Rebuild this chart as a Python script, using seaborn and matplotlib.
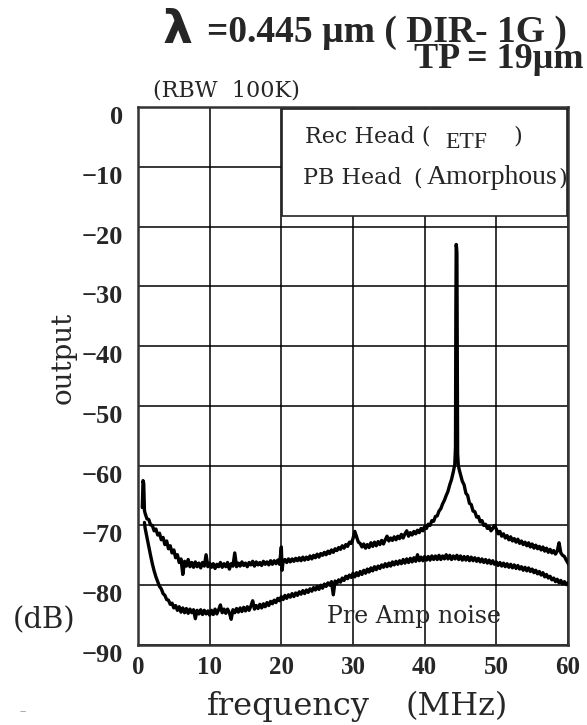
import matplotlib
matplotlib.use("Agg")
import matplotlib.pyplot as plt
from matplotlib.patches import Rectangle
from matplotlib.transforms import ScaledTranslation
import seaborn as sns
import pandas as pd

# ---------------- data ----------------
# upper trace: recorded signal (carrier at 44.5 MHz)
rec_freq = [0.6, 0.7, 0.8, 0.9, 1.0, 1.25, 1.5, 1.75, 2.0, 2.25, 2.5, 2.75, 3.0, 3.25, 3.5, 3.75,
            4.0, 4.25, 4.5, 4.75, 5.0, 5.25, 5.5, 5.75, 6.0, 6.25, 6.5, 6.75, 7.0, 7.25, 7.5,
            7.75, 8.0, 8.25, 8.5, 8.75, 9.0, 9.25, 9.5, 9.75, 10.0, 10.25, 10.5, 10.75, 11.0,
            11.25, 11.5, 11.75, 12.0, 12.25, 12.5, 12.75, 13.0, 13.25, 13.5, 13.75, 14.0, 14.25,
            14.5, 14.75, 15.0, 15.25, 15.5, 15.75, 16.0, 16.25, 16.5, 16.75, 17.0, 17.25, 17.5,
            17.75, 18.0, 18.25, 18.5, 18.75, 19.0, 19.25, 19.5, 19.75, 20.0, 20.1, 20.25, 20.5,
            20.75, 21.0, 21.25, 21.5, 21.75, 22.0, 22.25, 22.5, 22.75, 23.0, 23.25, 23.5, 23.75,
            24.0, 24.25, 24.5, 24.75, 25.0, 25.25, 25.5, 25.75, 26.0, 26.25, 26.5, 26.75, 27.0,
            27.25, 27.5, 27.75, 28.0, 28.25, 28.5, 28.75, 29.0, 29.25, 29.5, 29.75, 30.0, 30.25,
            30.5, 30.75, 31.0, 31.25, 31.5, 31.75, 32.0, 32.25, 32.5, 32.75, 33.0, 33.25, 33.5,
            33.75, 34.0, 34.25, 34.5, 34.75, 35.0, 35.25, 35.5, 35.75, 36.0, 36.25, 36.5, 36.75,
            37.0, 37.25, 37.5, 37.75, 38.0, 38.25, 38.5, 38.75, 39.0, 39.25, 39.5, 39.75, 40.0,
            40.25, 40.5, 40.75, 41.0, 41.25, 41.5, 41.75, 42.0, 42.25, 42.5, 42.75, 43.0, 43.25,
            43.5, 43.75, 44.0, 44.2, 44.3, 44.35, 44.4, 44.45, 44.5, 44.55, 44.6, 44.7, 44.85,
            45.0, 45.25, 45.5, 45.75, 46.0, 46.25, 46.5, 46.75, 47.0, 47.25, 47.5, 47.75, 48.0,
            48.25, 48.5, 48.75, 49.0, 49.25, 49.5, 49.75, 50.0, 50.25, 50.5, 50.75, 51.0, 51.25,
            51.5, 51.75, 52.0, 52.25, 52.5, 52.75, 53.0, 53.25, 53.5, 53.75, 54.0, 54.25, 54.5,
            54.75, 55.0, 55.25, 55.5, 55.75, 56.0, 56.25, 56.5, 56.75, 57.0, 57.25, 57.5, 57.75,
            58.0, 58.25, 58.5, 58.75, 59.0, 59.25, 59.5, 59.75, 60.0, 60.25, 60.5]
rec_level = [-67.0, -62.5, -63.0, -67.5, -68.0, -68.9, -69.0, -69.9, -70.0, -70.9, -70.6, -71.6,
             -71.3, -72.4, -72.0, -73.2, -72.6, -73.9, -73.4, -74.6, -74.1, -75.4, -74.9, -76.2,
             -75.6, -78.2, -76.0, -76.8, -75.7, -76.9, -76.2, -77.0, -76.1, -76.9, -76.3, -77.1,
             -76.2, -76.8, -74.9, -76.9, -76.3, -77.0, -76.4, -77.2, -76.5, -76.9, -76.2, -77.0,
             -76.4, -76.9, -76.2, -77.3, -76.4, -76.8, -74.6, -76.9, -76.3, -76.8, -76.1, -76.7,
             -76.3, -76.9, -76.2, -76.6, -76.0, -76.8, -76.1, -76.6, -76.2, -76.7, -76.0, -76.5,
             -76.1, -76.6, -75.9, -76.5, -75.9, -76.4, -75.8, -76.5, -73.6, -77.5, -76.0, -75.7,
             -76.2, -75.6, -76.1, -75.6, -76.0, -75.5, -75.9, -75.4, -75.9, -75.3, -75.8, -75.3,
             -75.7, -75.1, -75.6, -75.0, -75.4, -74.8, -75.3, -74.7, -75.0, -74.5, -74.9, -74.3,
             -74.7, -74.1, -74.5, -73.9, -74.2, -73.7, -74.0, -73.4, -73.8, -73.2, -73.5, -72.8,
             -73.0, -72.2, -71.0, -71.9, -72.8, -73.0, -73.6, -73.1, -73.8, -73.2, -73.7, -72.9,
             -73.5, -72.8, -73.4, -72.7, -73.2, -72.5, -73.1, -72.4, -71.8, -72.6, -72.1, -72.5,
             -71.9, -72.4, -71.8, -72.2, -71.5, -72.1, -71.4, -70.9, -71.8, -71.2, -71.6, -71.0,
             -71.4, -70.8, -71.2, -70.5, -70.9, -70.2, -70.5, -69.8, -70.0, -69.2, -69.3, -68.5,
             -68.4, -67.6, -67.2, -66.4, -65.8, -65.0, -64.3, -63.2, -62.3, -61.0, -59.8, -57.0,
             -35.0, -23.0, -23.5, -24.5, -40.0, -58.0, -60.0, -60.8, -61.5, -62.6, -63.2, -64.6,
             -65.0, -66.3, -66.5, -67.6, -67.7, -68.6, -68.5, -69.4, -69.2, -70.0, -69.8, -70.5,
             -70.2, -70.9, -70.5, -70.0, -70.6, -71.4, -71.0, -71.8, -71.4, -72.1, -71.7, -72.4,
             -71.9, -72.6, -72.2, -72.8, -72.3, -73.0, -72.6, -73.2, -72.8, -73.4, -72.9, -73.6,
             -73.1, -73.8, -73.3, -73.9, -73.5, -74.1, -73.6, -74.3, -73.8, -74.5, -74.0, -74.6,
             -74.2, -74.8, -74.3, -72.9, -74.6, -75.0, -75.2, -75.8, -76.3, -76.8, -77.2]

# lower trace: pre-amplifier noise floor
noise_freq = [0.9, 1.0, 1.25, 1.5, 1.75, 2.0, 2.25, 2.5, 2.75, 3.0, 3.25, 3.5, 3.75, 4.0, 4.25,
              4.5, 4.75, 5.0, 5.25, 5.5, 5.75, 6.0, 6.25, 6.5, 6.75, 7.0, 7.25, 7.5, 7.75, 8.0,
              8.25, 8.5, 8.75, 9.0, 9.25, 9.5, 9.75, 10.0, 10.25, 10.5, 10.75, 11.0, 11.25, 11.5,
              11.75, 12.0, 12.25, 12.5, 12.75, 13.0, 13.25, 13.5, 13.75, 14.0, 14.25, 14.5, 14.75,
              15.0, 15.25, 15.5, 15.75, 16.0, 16.25, 16.5, 16.75, 17.0, 17.25, 17.5, 17.75, 18.0,
              18.25, 18.5, 18.75, 19.0, 19.25, 19.5, 19.75, 20.0, 20.25, 20.5, 20.75, 21.0, 21.25,
              21.5, 21.75, 22.0, 22.25, 22.5, 22.75, 23.0, 23.25, 23.5, 23.75, 24.0, 24.25, 24.5,
              24.75, 25.0, 25.25, 25.5, 25.75, 26.0, 26.25, 26.5, 26.75, 27.0, 27.25, 27.5, 27.75,
              28.0, 28.25, 28.5, 28.75, 29.0, 29.25, 29.5, 29.75, 30.0, 30.25, 30.5, 30.75, 31.0,
              31.25, 31.5, 31.75, 32.0, 32.25, 32.5, 32.75, 33.0, 33.25, 33.5, 33.75, 34.0, 34.25,
              34.5, 34.75, 35.0, 35.25, 35.5, 35.75, 36.0, 36.25, 36.5, 36.75, 37.0, 37.25, 37.5,
              37.75, 38.0, 38.25, 38.5, 38.75, 39.0, 39.25, 39.5, 39.75, 40.0, 40.25, 40.5, 40.75,
              41.0, 41.25, 41.5, 41.75, 42.0, 42.25, 42.5, 42.75, 43.0, 43.25, 43.5, 43.75, 44.0,
              44.25, 44.5, 44.75, 45.0, 45.25, 45.5, 45.75, 46.0, 46.25, 46.5, 46.75, 47.0, 47.25,
              47.5, 47.75, 48.0, 48.25, 48.5, 48.75, 49.0, 49.25, 49.5, 49.75, 50.0, 50.25, 50.5,
              50.75, 51.0, 51.25, 51.5, 51.75, 52.0, 52.25, 52.5, 52.75, 53.0, 53.25, 53.5, 53.75,
              54.0, 54.25, 54.5, 54.75, 55.0, 55.25, 55.5, 55.75, 56.0, 56.25, 56.5, 56.75, 57.0,
              57.25, 57.5, 57.75, 58.0, 58.25, 58.5, 58.75, 59.0, 59.25, 59.5, 59.75, 60.0, 60.25,
              60.5]
noise_level = [-69.5, -70.5, -72.0, -73.5, -75.0, -76.4, -77.6, -78.6, -79.4, -80.2, -80.6, -81.4,
               -81.7, -82.4, -82.5, -83.2, -83.0, -83.8, -83.4, -84.2, -83.6, -84.5, -83.8, -84.6,
               -83.9, -84.7, -84.0, -84.6, -84.1, -85.6, -84.2, -84.8, -84.1, -84.9, -84.2, -84.8,
               -84.3, -85.0, -84.2, -84.9, -84.0, -84.8, -84.1, -83.3, -84.6, -84.0, -84.7, -84.0,
               -84.6, -85.7, -84.1, -84.6, -83.9, -84.5, -83.8, -84.4, -83.7, -84.3, -83.6, -84.2,
               -83.5, -82.6, -84.0, -83.4, -83.9, -83.2, -83.8, -83.1, -83.6, -82.9, -83.4, -82.7,
               -83.1, -82.5, -82.9, -82.2, -82.6, -81.9, -82.4, -81.7, -82.2, -81.6, -82.0, -81.4,
               -81.9, -81.3, -81.7, -81.1, -81.5, -80.9, -81.4, -80.8, -81.2, -80.6, -81.0, -80.4,
               -80.8, -80.2, -80.7, -80.0, -80.5, -79.8, -80.2, -79.6, -80.0, -79.4, -81.6, -79.3,
               -79.7, -79.1, -79.5, -78.8, -79.2, -78.5, -78.9, -78.3, -78.7, -78.0, -78.6, -77.9,
               -78.4, -77.7, -78.2, -77.5, -78.0, -77.3, -77.8, -77.1, -77.6, -76.9, -77.4, -76.8,
               -77.2, -76.6, -77.0, -76.4, -76.9, -76.3, -76.8, -76.1, -76.6, -76.0, -76.5, -75.9,
               -76.4, -75.7, -76.3, -75.6, -76.2, -75.5, -76.1, -75.4, -76.0, -74.9, -75.9, -75.3,
               -75.9, -75.2, -75.8, -75.2, -75.8, -75.1, -75.7, -75.1, -75.7, -75.0, -75.7, -75.1,
               -75.6, -74.9, -75.6, -75.0, -75.7, -75.1, -75.6, -75.0, -75.7, -75.1, -75.8, -75.2,
               -75.8, -75.2, -75.9, -75.3, -75.9, -75.4, -76.0, -75.5, -76.1, -75.6, -76.2, -75.7,
               -76.3, -75.8, -76.4, -75.9, -76.5, -76.1, -76.7, -76.2, -76.8, -76.3, -76.9, -76.4,
               -77.0, -76.5, -77.1, -76.6, -77.2, -76.7, -77.3, -76.9, -77.5, -77.0, -77.6, -77.1,
               -77.7, -77.3, -77.9, -77.5, -78.1, -77.7, -78.3, -77.9, -78.6, -78.2, -78.8, -78.5,
               -79.1, -78.8, -79.4, -79.0, -79.6, -79.2, -79.8, -79.4, -79.9, -79.6, -80.1, -80.3]

x_ticks = [0, 10, 20, 30, 40, 50, 60]
x_tick_labels = ["0", "10", "20", "30", "40", "50", "60"]
y_ticks = [0, -10, -20, -30, -40, -50, -60, -70, -80, -90]
y_tick_labels = ["0", "\u221210", "\u221220", "\u221230", "\u221240", "\u221250",
                 "\u221260", "\u221270", "\u221280", "\u221290"]

# ---------------- figure ----------------
sns.set_style("white")
plt.rcParams["font.family"] = ["DejaVu Serif", "DejaVu Sans"]

W, H = 587, 725
fig = plt.figure(figsize=(W / 100, H / 100), dpi=100)
ax = fig.add_axes([138 / W, 1 - 645 / H, 430 / W, 538 / H])


def ftext(x, y, s, **kw):
    fig.text(x / W, 1 - y / H, s, **kw)


rec_df = pd.DataFrame({"freq": rec_freq, "level": rec_level})
noise_df = pd.DataFrame({"freq": noise_freq, "level": noise_level})
sns.lineplot(data=rec_df, x="freq", y="level", ax=ax, color="black", lw=2.4,
             estimator=None, sort=False, zorder=4)
sns.lineplot(data=noise_df, x="freq", y="level", ax=ax, color="black", lw=2.4,
             estimator=None, sort=False, zorder=4)

ax.set_xlim(0, 60)
ax.set_ylim(-90, 0)
ax.set_xticks(x_ticks)
ax.set_xticklabels(x_tick_labels, fontsize=18, fontweight="bold",
                   family=["Liberation Serif"])
ax.set_yticks(y_ticks)
ax.set_yticklabels(y_tick_labels, fontsize=19, fontweight="bold",
                   family=["Liberation Serif"])
ax.tick_params(axis="both", length=0)
ax.tick_params(axis="x", pad=8)
ax.tick_params(axis="y", pad=11)
off = ScaledTranslation(0, -8 / 100, fig.dpi_scale_trans)
for lab in ax.get_yticklabels():
    lab.set_transform(lab.get_transform() + off)

ax.grid(True, color="black", lw=1.1)
for sp in ax.spines.values():
    sp.set_color("#333333")
    sp.set_linewidth(1.8)
ax.set_xlabel("")
ax.set_ylabel("")

# legend box (white panel over the grid)
ax.add_patch(Rectangle((20.1, -18.2), 39.76, 17.9, facecolor="white",
                       edgecolor="#222222", lw=1.2, zorder=3))

# ---------------- texts ----------------
ftext(177, 43, "\u03bb", fontsize=34, fontweight="bold", family=["DejaVu Sans"],
      ha="center", va="baseline")
ftext(207, 42, "=0.445 \u00b5m ( DIR- 1G )", fontsize=27, fontweight="bold",
      family=["Liberation Serif"], ha="left", va="baseline")
ftext(583, 68, "TP = 19\u00b5m", fontsize=26, fontweight="bold",
      family=["Liberation Serif"], ha="right", va="baseline")
ftext(153, 90, "(RBW  100K)", fontsize=16, ha="left", va="center")

ftext(305, 137, "Rec Head (", fontsize=16, ha="left", va="center")
ftext(466, 142, "ETF", fontsize=17, family=["Liberation Serif"], ha="center", va="center")
ftext(513, 137, ")", fontsize=16, ha="left", va="center")
ftext(303, 178, "PB Head", fontsize=16, ha="left", va="center")
ftext(413, 178, "(", fontsize=16, ha="left", va="center")
ftext(427, 178, "Amorphous", fontsize=20, family=["Liberation Serif"], ha="left", va="center")
ftext(558, 178, ")", fontsize=16, ha="left", va="center")

ftext(63, 358, "output", fontsize=20, rotation=90, ha="center", va="center")
ftext(44, 620, "(dB)", fontsize=21, ha="center", va="center")
ftext(327, 617, "Pre Amp noise", fontsize=17, ha="left", va="center")
ftext(207, 707, "frequency", fontsize=23, ha="left", va="center")
ftext(508, 707, "(MHz)", fontsize=23, ha="right", va="center")
ftext(23, 712, "\u2012", fontsize=7, color="#777777", ha="center", va="center")

fig.savefig("out.png", dpi=100)
